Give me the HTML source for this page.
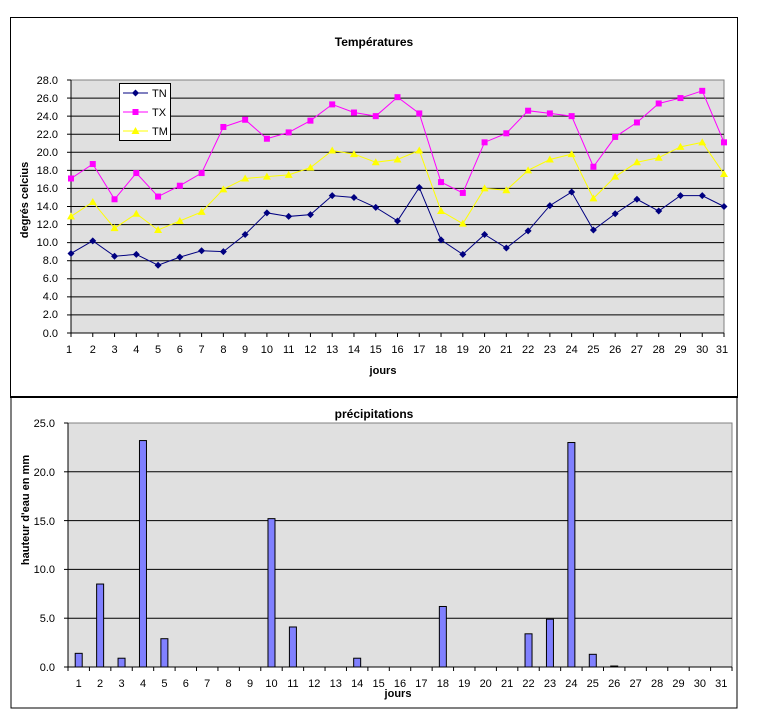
<!DOCTYPE html>
<html><head><meta charset="utf-8"><style>
body{margin:0;background:#fff}
svg{display:block;font-family:"Liberation Sans",Arial,sans-serif;font-size:11px}
.b{font-weight:bold;font-size:12px}
</style></head><body>
<svg id="s" width="764" height="721" xmlns="http://www.w3.org/2000/svg">
<rect x="10.5" y="17.5" width="727" height="379" fill="#fff" stroke="#000" stroke-width="1"/>
<rect x="11" y="397" width="726" height="311" fill="#fff" stroke="#000" stroke-width="1"/>
<line x1="10" y1="397" x2="738" y2="397" stroke="#000" stroke-width="2"/>
<text x="374" y="46" text-anchor="middle" class="b">Températures</text>
<rect x="71" y="80" width="653" height="253" fill="#e0e0e0" stroke="#808080"/>
<g id="g1" stroke="#000" stroke-width="1"></g>
<g text-anchor="end">
<text x="58" y="84">28.0</text><text x="58" y="102">26.0</text><text x="58" y="120">24.0</text><text x="58" y="138">22.0</text><text x="58" y="156">20.0</text><text x="58" y="174">18.0</text><text x="58" y="192">16.0</text><text x="58" y="210">14.0</text><text x="58" y="228">12.0</text><text x="58" y="246">10.0</text><text x="58" y="264">8.0</text><text x="58" y="282">6.0</text><text x="58" y="300">4.0</text><text x="58" y="318">2.0</text><text x="58" y="337">0.0</text>
</g>
<g text-anchor="middle">
<text x="69" y="353">1</text><text x="92.8" y="353">2</text><text x="114.5" y="353">3</text><text x="136.3" y="353">4</text><text x="158.1" y="353">5</text><text x="179.8" y="353">6</text><text x="201.6" y="353">7</text><text x="223.4" y="353">8</text><text x="245.1" y="353">9</text><text x="266.9" y="353">10</text><text x="288.7" y="353">11</text><text x="310.4" y="353">12</text><text x="332.2" y="353">13</text><text x="354" y="353">14</text><text x="375.7" y="353">15</text><text x="397.5" y="353">16</text><text x="419.3" y="353">17</text><text x="441" y="353">18</text><text x="462.8" y="353">19</text><text x="484.6" y="353">20</text><text x="506.3" y="353">21</text><text x="528.1" y="353">22</text><text x="549.9" y="353">23</text><text x="571.6" y="353">24</text><text x="593.4" y="353">25</text><text x="615.2" y="353">26</text><text x="636.9" y="353">27</text><text x="658.7" y="353">28</text><text x="680.5" y="353">29</text><text x="702.2" y="353">30</text><text x="722" y="353">31</text>
</g>
<text x="383" y="374" text-anchor="middle" class="b" style="font-size:11px">jours</text>
<text transform="translate(28,200) rotate(-90)" text-anchor="middle" class="b" style="font-size:11px">degrés celcius</text>
<g id="ser"></g>
<rect x="119.5" y="83.5" width="51" height="57" fill="#fff" stroke="#000"/>
<line x1="123" y1="93" x2="148" y2="93" stroke="#000080"/><path d="M135.5 89.5 L139 93 L135.5 96.5 L132 93Z" fill="#000080"/>
<line x1="123" y1="112" x2="148" y2="112" stroke="#ff00ff"/><rect x="132.5" y="109" width="6" height="6" fill="#ff00ff"/>
<line x1="123" y1="131" x2="148" y2="131" stroke="#ffff00"/><path d="M135.5 127 L139.5 134 L131.5 134Z" fill="#ffff00"/>
<text x="152" y="97">TN</text><text x="152" y="116">TX</text><text x="152" y="135">TM</text>

<text x="374" y="418" text-anchor="middle" class="b">précipitations</text>
<rect x="68" y="423" width="664" height="244" fill="#e0e0e0" stroke="#808080"/>
<g id="g2"></g>
<g text-anchor="end">
<text x="55" y="427">25.0</text><text x="55" y="476">20.0</text><text x="55" y="525">15.0</text><text x="55" y="573">10.0</text><text x="55" y="622">5.0</text><text x="55" y="671">0.0</text>
</g>
<g text-anchor="middle">
<text x="78.7" y="687">1</text><text x="100.1" y="687">2</text><text x="121.5" y="687">3</text><text x="143" y="687">4</text><text x="164.4" y="687">5</text><text x="185.8" y="687">6</text><text x="207.2" y="687">7</text><text x="228.6" y="687">8</text><text x="250.1" y="687">9</text><text x="271.5" y="687">10</text><text x="292.9" y="687">11</text><text x="314.3" y="687">12</text><text x="335.8" y="687">13</text><text x="357.2" y="687">14</text><text x="378.6" y="687">15</text><text x="400" y="687">16</text><text x="421.4" y="687">17</text><text x="442.9" y="687">18</text><text x="464.3" y="687">19</text><text x="485.7" y="687">20</text><text x="507.1" y="687">21</text><text x="528.5" y="687">22</text><text x="550" y="687">23</text><text x="571.4" y="687">24</text><text x="592.8" y="687">25</text><text x="614.2" y="687">26</text><text x="635.6" y="687">27</text><text x="657.1" y="687">28</text><text x="678.5" y="687">29</text><text x="699.9" y="687">30</text><text x="721.3" y="687">31</text>
</g>
<text x="398" y="697" text-anchor="middle" class="b" style="font-size:11px">jours</text>
<text transform="translate(29,510) rotate(-90)" text-anchor="middle" class="b" style="font-size:11px">hauteur d'eau en mm</text>
</svg>
<script>
var NS="http://www.w3.org/2000/svg";
function el(p,t,a){var e=document.createElementNS(NS,t);for(var k in a)e.setAttribute(k,a[k]);p.appendChild(e);return e;}
var g1=document.getElementById('g1'),ser=document.getElementById('ser'),g2=document.getElementById('g2');
for(var v=2;v<28;v+=2){var y=333-v*9.036;el(g1,'line',{x1:71,x2:724,y1:y,y2:y});}
for(var v=0;v<=28;v+=2){var y=333-v*9.036;el(g1,'line',{x1:67,x2:71,y1:y,y2:y});}
el(g1,'line',{x1:71,x2:71,y1:80,y2:333});el(g1,'line',{x1:71,x2:724,y1:333,y2:333});
for(var i=0;i<31;i++){var x=71+i*21.767;el(g1,'line',{x1:x,x2:x,y1:333,y2:337});}
var TN=[8.8,10.2,8.5,8.7,7.5,8.4,9.1,9.0,10.9,13.3,12.9,13.1,15.2,15.0,13.9,12.4,16.1,10.3,8.7,10.9,9.4,11.3,14.1,15.6,11.4,13.2,14.8,13.5,15.2,15.2,14.0];
var TX=[17.1,18.7,14.8,17.7,15.1,16.3,17.7,22.8,23.6,21.5,22.2,23.5,25.3,24.4,24.0,26.1,24.3,16.7,15.5,21.1,22.1,24.6,24.3,24.0,18.4,21.7,23.3,25.4,26.0,26.8,21.1];
var TM=[12.9,14.5,11.6,13.2,11.4,12.4,13.4,15.9,17.1,17.3,17.5,18.3,20.2,19.8,18.9,19.2,20.2,13.5,12.1,16.0,15.8,18.0,19.2,19.8,14.9,17.3,18.9,19.4,20.6,21.1,17.6];
function series(d,c,m){var pts=d.map(function(v,i){return [71+i*21.767,333-v*9.036]});
el(ser,'polyline',{points:pts.map(function(p){return p.join(',')}).join(' '),fill:'none',stroke:c,'stroke-width':1});
pts.forEach(function(p){var x=p[0],y=p[1];
if(m=='d')el(ser,'path',{d:'M'+x+' '+(y-3.5)+'L'+(x+3.5)+' '+y+'L'+x+' '+(y+3.5)+'L'+(x-3.5)+' '+y+'Z',fill:c});
else if(m=='s')el(ser,'rect',{x:x-3,y:y-3,width:6,height:6,fill:c});
else el(ser,'path',{d:'M'+x+' '+(y-4)+'L'+(x+4)+' '+(y+3)+'L'+(x-4)+' '+(y+3)+'Z',fill:c});});}
series(TM,'#ffff00','t');series(TX,'#ff00ff','s');series(TN,'#000080','d');
var P=[1.4,8.5,0.9,23.2,2.9,0,0,0,0,15.2,4.1,0,0,0.9,0,0,0,6.2,0,0,0,3.4,4.9,23.0,1.3,0.1,0,0,0,0,0];
for(var v=5;v<25;v+=5){var y=667-v*9.76;el(g2,'line',{x1:68,x2:732,y1:y,y2:y,stroke:'#000'});}
for(var v=0;v<=25;v+=5){var y=667-v*9.76;el(g2,'line',{x1:64,x2:68,y1:y,y2:y,stroke:'#000'});}
el(g2,'line',{x1:68,x2:68,y1:423,y2:667,stroke:'#000'});el(g2,'line',{x1:68,x2:732,y1:667,y2:667,stroke:'#000'});
for(var i=0;i<=31;i++){var x=68+i*21.42;el(g2,'line',{x1:x,x2:x,y1:667,y2:671,stroke:'#000'});}
P.forEach(function(v,i){if(v>0){var cx=68+(i+0.5)*21.42,h=v*9.76;el(g2,'rect',{x:cx-3.5,y:667-h,width:7,height:h,fill:'#8080ff',stroke:'#000','stroke-width':1});}});
</script>
</body></html>
